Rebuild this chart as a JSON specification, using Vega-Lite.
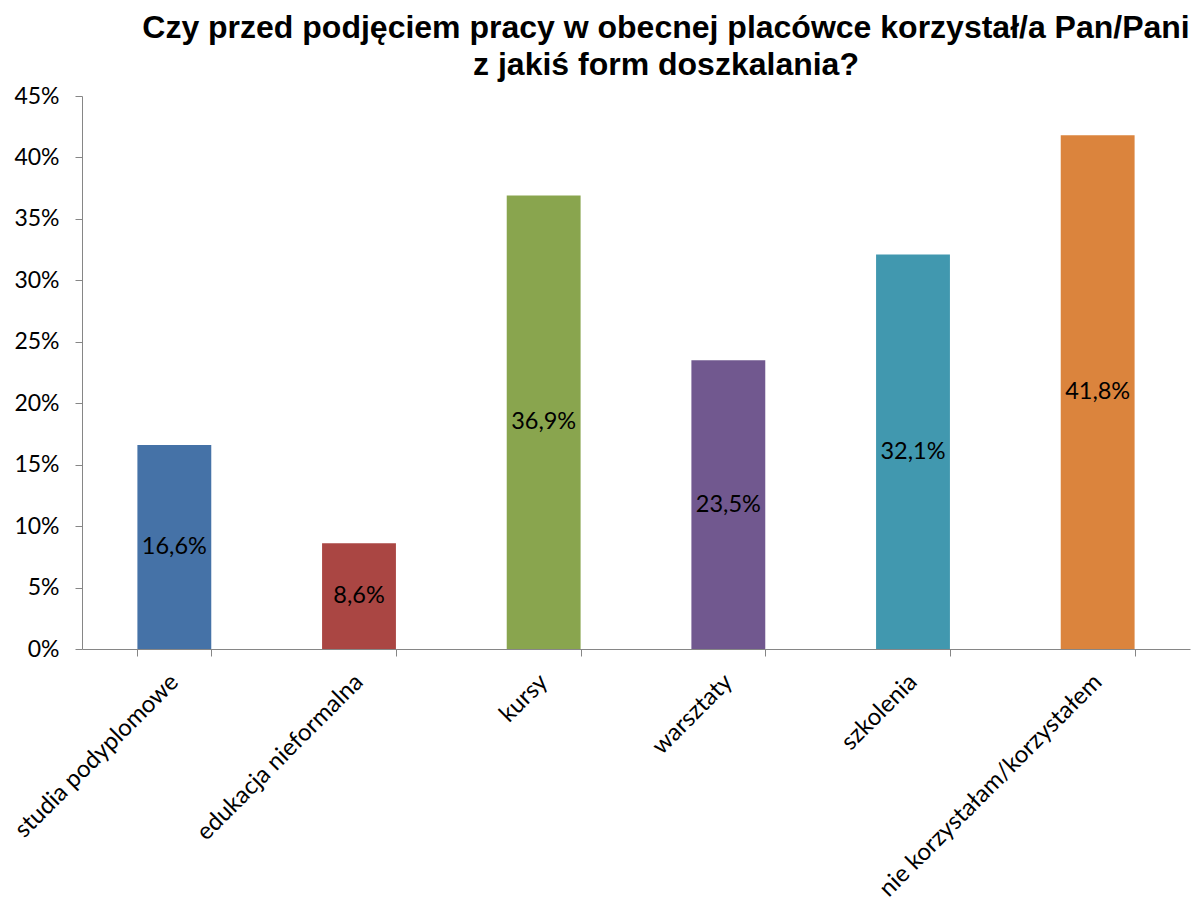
{
  "$schema": "https://vega.github.io/schema/vega-lite/v6.json",
  "width": 1108,
  "height": 553,
  "autosize": {"type": "none"},
  "padding": {"left": 82, "top": 96, "right": 10, "bottom": 256},
  "background": "white",
  "config": {
    "view": {"stroke": null},
    "locale": {"number": {"decimal": ",", "thousands": " ", "grouping": [3], "currency": ["", " zł"]}}
  },
  "title": {
    "text": ["Czy przed podjęciem pracy w obecnej placówce korzystał/a Pan/Pani", "z jakiś form doszkalania?"],
    "font": "Liberation Sans",
    "fontSize": 32,
    "fontWeight": "bold",
    "color": "#000000",
    "lineHeight": 37,
    "anchor": "middle",
    "frame": "group",
    "dx": 30,
    "offset": 3
  },
  "data": {
    "values": [
      {"kategoria": "studia podyplomowe", "v": 0.166},
      {"kategoria": "edukacja nieformalna", "v": 0.086},
      {"kategoria": "kursy", "v": 0.369},
      {"kategoria": "warsztaty", "v": 0.235},
      {"kategoria": "szkolenia", "v": 0.321},
      {"kategoria": "nie korzystałam/korzystałem", "v": 0.418}
    ]
  },
  "transform": [{"calculate": "datum.v / 2", "as": "mid"}],
  "encoding": {
    "x": {
      "field": "kategoria",
      "type": "nominal",
      "sort": null,
      "scale": {"paddingInner": 0.6, "paddingOuter": 0.3},
      "axis": {
        "title": null,
        "tickBand": "extent",
        "domainColor": "#868686",
        "tickColor": "#868686",
        "tickSize": 7,
        "labelAngle": -45,
        "labelAlign": "right",
        "labelBaseline": "middle",
        "labelPadding": 22,
        "labelFont": "Lato",
        "labelFontSize": 24,
        "labelColor": "#000000",
        "labelLimit": 0,
        "grid": false
      }
    }
  },
  "layer": [
    {
      "mark": {"type": "bar"},
      "encoding": {
        "y": {
          "field": "v",
          "type": "quantitative",
          "scale": {"domain": [0, 0.45]},
          "axis": {
            "title": null,
            "values": [0, 0.05, 0.1, 0.15, 0.2, 0.25, 0.3, 0.35, 0.4, 0.45],
            "format": ".0%",
            "grid": false,
            "domainColor": "#868686",
            "tickColor": "#868686",
            "tickSize": 7,
            "labelPadding": 16,
            "labelFont": "Lato",
            "labelFontSize": 23,
            "labelColor": "#000000"
          }
        },
        "color": {
          "field": "kategoria",
          "type": "nominal",
          "sort": null,
          "scale": {
            "domain": ["studia podyplomowe", "edukacja nieformalna", "kursy", "warsztaty", "szkolenia", "nie korzystałam/korzystałem"],
            "range": ["#4572A7", "#AA4643", "#89A54E", "#71588F", "#4198AF", "#DB843D"]
          },
          "legend": null
        }
      }
    },
    {
      "mark": {"type": "text", "font": "Lato", "fontSize": 23.5, "color": "#000000", "baseline": "middle", "align": "center"},
      "encoding": {
        "y": {"field": "mid", "type": "quantitative"},
        "text": {"field": "v", "type": "quantitative", "format": ".1%"}
      }
    }
  ]
}
